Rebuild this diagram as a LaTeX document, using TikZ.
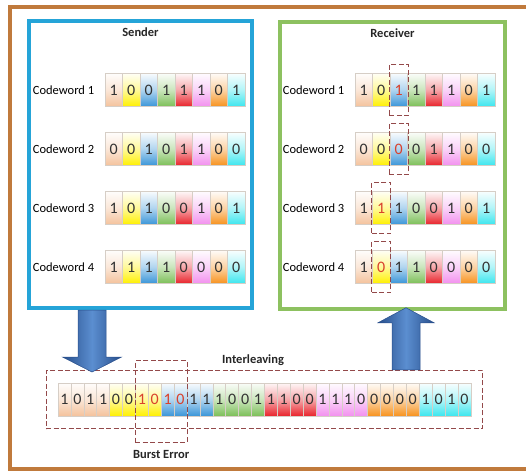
\documentclass[tikz,border=0pt]{standalone}
\usepackage{fontspec}
\setmainfont{Carlito}
\usetikzlibrary{positioning,fit}

\definecolor{framebrown}{HTML}{C07A3C}
\definecolor{senderblue}{HTML}{25A4D8}
\definecolor{receivergreen}{HTML}{8DC160}
\definecolor{errbrown}{HTML}{93494A}
\definecolor{errred}{HTML}{D9412C}
\definecolor{cellgray}{HTML}{D6CEC6}
\definecolor{arrowdark}{HTML}{284F8C}
\definecolor{arrowlight}{HTML}{5B8ED0}
\definecolor{col1}{HTML}{F4C29C}
\definecolor{col2}{HTML}{FFF000}
\definecolor{col3}{HTML}{3A95D8}
\definecolor{col4}{HTML}{7CBF58}
\definecolor{col5}{HTML}{E8232B}
\definecolor{col6}{HTML}{F290EE}
\definecolor{col7}{HTML}{F7921E}
\definecolor{col8}{HTML}{3CE6EE}

\newcommand\err[1]{\textcolor{errred}{#1}}

\begin{document}
\begin{tikzpicture}[x=1pt,y=-1pt]
  \tikzstyle{bit} = [draw=cellgray, line width=0.5pt, minimum width=17.5pt, minimum height=33pt,
                     inner sep=0pt, text=black!80, font=\fontsize{16}{16}\selectfont]
  \tikzstyle{ibit} = [bit, minimum width=12.9pt]
  \tikzstyle{cwlabel} = [font=\fontsize{12.5}{14}\selectfont]
  \tikzstyle{title} = [font=\fontsize{12.5}{14}\selectfont\bfseries, text=black!85]
  \tikzstyle{errbox} = [draw=errbrown, line width=1pt, dash pattern=on 5pt off 2.5pt, inner sep=0pt]
  \tikzstyle{bigarrow} = [left color=arrowdark, right color=arrowdark, middle color=arrowlight,
                          draw=arrowdark, line width=0.5pt]
  \tikzset{cellfill/.style={top color=#1!4, bottom color=#1, middle color=#1!40}}

  \useasboundingbox (0,0) rectangle (526,472);
  \fill[white] (0,0) rectangle (526,472);
  \draw[draw=framebrown, line width=4pt] (10,7) rectangle (540,469);

  \node (sender) [draw=senderblue, line width=4pt, minimum width=223pt, minimum height=287pt] at (140.5,164.5) {};
  \node (receiver) [draw=receivergreen, line width=4pt, minimum width=225pt, minimum height=287pt] at (392.5,165.5) {};
  \node (sendertitle) [title, below=5pt of sender.north] {Sender};
  \node (receivertitle) [title, below=5pt of receiver.north] {Receiver};

  \foreach \row/\y/\sbits/\rbits in {
      1/90/{1,0,0,1,1,1,0,1}/{1,0,\err1,1,1,1,0,1},
      2/149/{0,0,1,0,1,1,0,0}/{0,0,\err0,0,1,1,0,0},
      3/208/{1,0,1,0,0,1,0,1}/{1,\err1,1,0,0,1,0,1},
      4/267/{1,1,1,1,0,0,0,0}/{1,\err0,1,1,0,0,0,0}}
  {
    \foreach \b [count=\c] in \sbits
      \node (s\row-\c) [bit, cellfill=col\c] at (96.25+17.5*\c, \y) {\b};
    \foreach \b [count=\c] in \rbits
      \node (r\row-\c) [bit, cellfill=col\c] at (346.25+17.5*\c, \y) {\b};
    \node (slabel\row) [cwlabel, left=7pt of s\row-1] {Codeword \row};
    \node (rlabel\row) [cwlabel, left=7pt of r\row-1] {Codeword \row};
  }

  \foreach \n in {r1-3, r2-3, r3-2, r4-2}
    \node (err-\n) [errbox, fit=(\n), inner xsep=0.5pt, inner ysep=9pt] {};

  \foreach \b [count=\k] in {1,0,1,1,0,0,\err1,\err0,\err1,\err0,1,1,1,0,0,1,
                             1,1,0,0,1,1,1,0,0,0,0,0,1,0,1,0}
  {
    \pgfmathtruncatemacro\g{int((\k-1)/4)+1}
    \node (i\k) [ibit, cellfill=col\g] at (51.55+12.9*\k, 399.5) {\b};
  }

  \node (inter) [errbox, fit=(i1)(i32), inner xsep=11.6pt, inner ysep=12.5pt] {};
  \coordinate (bursttop) at ([yshift=22pt]i7.north west);
  \coordinate (burstbot) at ([yshift=-26pt]i10.south east);
  \node (burst) [errbox, fit=(bursttop)(burstbot)] {};
  \node (intertitle) [title] at (253,360) {Interleaving};
  \node (bursttitle) [title, below=4pt of burst] {Burst Error};

  \coordinate (dtop) at ([xshift=-48.5pt]sender.south);
  \shadedraw[bigarrow] (dtop) ++(-14,0) -- ++(28,0) -- ++(0,47) -- ++(15.5,0) -- ++(-29.5,15)
    -- ++(-29.5,-15) -- ++(15.5,0) -- cycle;
  \path ([xshift=13.5pt]receiver.south) coordinate (ux);
  \coordinate (utail) at (ux |- inter.north);
  \shadedraw[bigarrow] (utail) ++(-14,0) -- ++(28,0) -- ++(0,-47) -- ++(14,0) -- ++(-28,-15)
    -- ++(-28,15) -- ++(14,0) -- cycle;
\end{tikzpicture}
\end{document}
